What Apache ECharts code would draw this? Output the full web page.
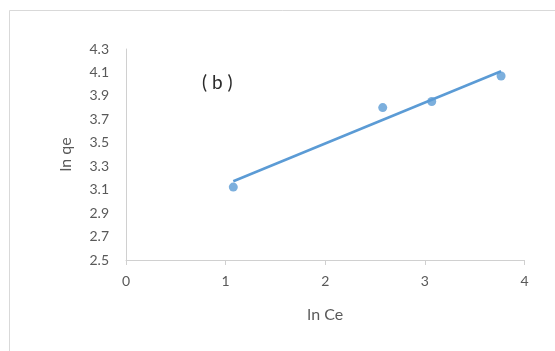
<!DOCTYPE html>
<html>
<head>
<meta charset="utf-8">
<script src="https://cdn.jsdelivr.net/npm/echarts@6/dist/echarts.min.js"></script>
<style>
  html, body { margin: 0; padding: 0; background: #fff; }
  #chart { width: 555px; height: 351px; }
</style>
</head>
<body>
<div id="chart"></div>
<script>
// Freundlich isotherm, panel (b): ln qe against ln Ce
const lnCe = [1.077, 2.577, 3.069, 3.765];
const lnQe = [3.122, 3.800, 3.852, 4.070];
// fitted linear trend, end points
const trendX = [1.077, 3.765];
const trendY = [3.172, 4.110];
const xTicks = [0, 1, 2, 3, 4];
const yTicks = [2.5, 2.7, 2.9, 3.1, 3.3, 3.5, 3.7, 3.9, 4.1, 4.3];

const font = 'Lato, "Open Sans", sans-serif';
const chart = echarts.init(document.getElementById('chart'), null, { renderer: 'canvas' });

chart.setOption({
  animation: false,
  backgroundColor: '#ffffff',
  graphic: [
    {
      type: 'rect',
      shape: { x: 9.5, y: 10.5, width: 560, height: 360 },
      style: { fill: 'none', stroke: '#d9d9d9', lineWidth: 1 },
      z: -1
    },
    {
      type: 'text',
      left: 202,
      top: 73,
      style: { text: '( b )', fill: '#2b2b2b', font: '19px ' + font }
    }
  ],
  grid: { left: 126, right: 30.5, top: 49, bottom: 91, containLabel: false },
  xAxis: {
    type: 'value',
    min: xTicks[0],
    max: xTicks[xTicks.length - 1],
    interval: 1,
    name: 'ln Ce',
    nameLocation: 'middle',
    nameGap: 47,
    nameTextStyle: { color: '#595959', fontSize: 16, fontFamily: font },
    axisLine: { show: true, lineStyle: { color: '#d0d0d0', width: 1 } },
    axisTick: { show: true, length: 5, lineStyle: { color: '#d0d0d0' } },
    axisLabel: { color: '#595959', fontSize: 14, fontFamily: font, margin: 14 },
    splitLine: { show: false }
  },
  yAxis: {
    type: 'value',
    min: yTicks[0],
    max: yTicks[yTicks.length - 1],
    name: 'ln qe',
    nameLocation: 'middle',
    nameRotate: 90,
    nameGap: 52,
    nameTextStyle: { color: '#595959', fontSize: 16, fontFamily: font },
    axisLine: { show: true, lineStyle: { color: '#d0d0d0', width: 1 } },
    axisTick: { show: false },
    axisLabel: {
      color: '#595959', fontSize: 14, fontFamily: font, margin: 17,
      customValues: yTicks,
      formatter: v => v.toFixed(1)
    },
    splitLine: { show: false }
  },
  series: [
    {
      type: 'line',
      data: trendX.map((x, i) => [x, trendY[i]]),
      showSymbol: false,
      lineStyle: { color: '#5b9bd5', width: 2.5 },
      z: 2
    },
    {
      type: 'scatter',
      data: lnCe.map((x, i) => [x, lnQe[i]]),
      symbol: 'circle',
      symbolSize: 9,
      itemStyle: { color: '#5b9bd5' },
      z: 3
    }
  ]
});
</script>
</body>
</html>
